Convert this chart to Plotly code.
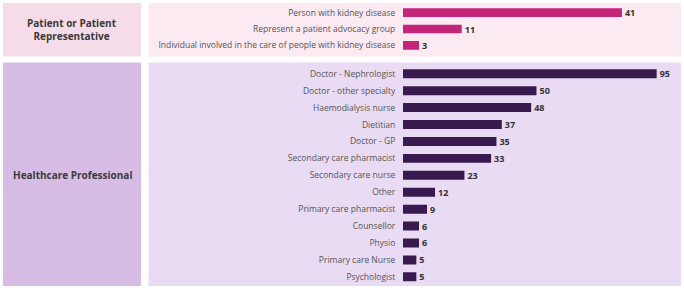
import plotly.graph_objects as go

W, H = 684, 288

patient_cats = ["Person with kidney disease", "Represent a patient advocacy group",
                "Individual involved in the care of people with kidney disease"]
patient_vals = [41, 11, 3]

hcp_cats = ["Doctor - Nephrologist", "Doctor - other specialty", "Haemodialysis nurse",
            "Dietitian", "Doctor - GP", "Secondary care pharmacist", "Secondary care nurse",
            "Other", "Primary care pharmacist", "Counsellor", "Physio",
            "Primary care Nurse", "Psychologist"]
hcp_vals = [95, 50, 48, 37, 35, 33, 23, 12, 9, 6, 6, 5, 5]

group_labels = ["Patient or Patient<br>Representative", "Healthcare Professional"]

FONT = "Open Sans"

def px(x):
    return x / W

def py(y):
    return 1 - y / H

fig = go.Figure()
fig.add_trace(go.Bar(
    x=patient_vals, y=patient_cats, orientation="h",
    marker=dict(color="#c2257a", line=dict(width=0)),
    text=patient_vals, textposition="outside", cliponaxis=False, constraintext="none",
    textfont=dict(family=FONT, size=9, color="#333333", weight="bold"),
    xaxis="x", yaxis="y", showlegend=False, hoverinfo="x+y",
))
fig.add_trace(go.Bar(
    x=hcp_vals, y=hcp_cats, orientation="h",
    marker=dict(color="#381a4f", line=dict(width=0)),
    text=hcp_vals, textposition="outside", cliponaxis=False, constraintext="none",
    textfont=dict(family=FONT, size=9, color="#333333", weight="bold"),
    xaxis="x2", yaxis="y2", showlegend=False, hoverinfo="x+y",
))

xdom = [px(403), px(670)]
common_y = dict(showgrid=False, zeroline=False, showline=False, ticks="outside",
                ticklen=5, tickcolor="rgba(0,0,0,0)",
                tickfont=dict(family=FONT, size=8.5, color="#555555"), type="category")
common_x = dict(showgrid=False, zeroline=False, showline=False, showticklabels=False,
                domain=xdom, fixedrange=True)

n1 = len(patient_cats)
n2 = len(hcp_cats)
fig.update_layout(
    width=W, height=H,
    margin=dict(l=0, r=0, t=0, b=0),
    paper_bgcolor="white", plot_bgcolor="rgba(0,0,0,0)",
    bargap=0.47,
    font=dict(family=FONT),
    xaxis=dict(range=[0, 50], anchor="y", **common_x),
    xaxis2=dict(range=[0, 100], anchor="y2", **common_x),
    yaxis=dict(domain=[py(53.5), py(4.5)], anchor="x",
               categoryorder="array", categoryarray=patient_cats,
               range=[n1 - 0.5, -0.5], **common_y),
    yaxis2=dict(domain=[py(285.3), py(65.3)], anchor="x2",
                categoryorder="array", categoryarray=hcp_cats,
                range=[n2 - 0.5, -0.5], **common_y),
)

boxes = [
    (3, 3, 141, 56.5, "#f6dce9"),
    (148.5, 3, 681, 56.5, "#fbeaf2"),
    (3, 62.5, 141, 286, "#d7bde6"),
    (148.5, 62.5, 681, 286, "#e9dbf3"),
]
for x0, y0, x1, y1, c in boxes:
    fig.add_shape(type="rect", xref="paper", yref="paper",
                  x0=px(x0), x1=px(x1), y0=py(y1), y1=py(y0),
                  fillcolor=c, line=dict(width=0), layer="below")

fig.add_annotation(x=px(72), y=py(30), xref="paper", yref="paper",
                   xanchor="center", yanchor="middle",
                   text="<b>" + group_labels[0] + "</b>", showarrow=False,
                   font=dict(family=FONT, size=10, color="#3a3a3a"), align="center")
fig.add_annotation(x=px(72), y=py(174.5), xref="paper", yref="paper",
                   xanchor="center", yanchor="middle",
                   text="<b>" + group_labels[1] + "</b>", showarrow=False,
                   font=dict(family=FONT, size=10, color="#3a3a3a"), align="center")

fig.write_html("out.html", config={"displayModeBar": False},
               post_script="document.body.style.margin='0';document.body.style.overflow='hidden';")
